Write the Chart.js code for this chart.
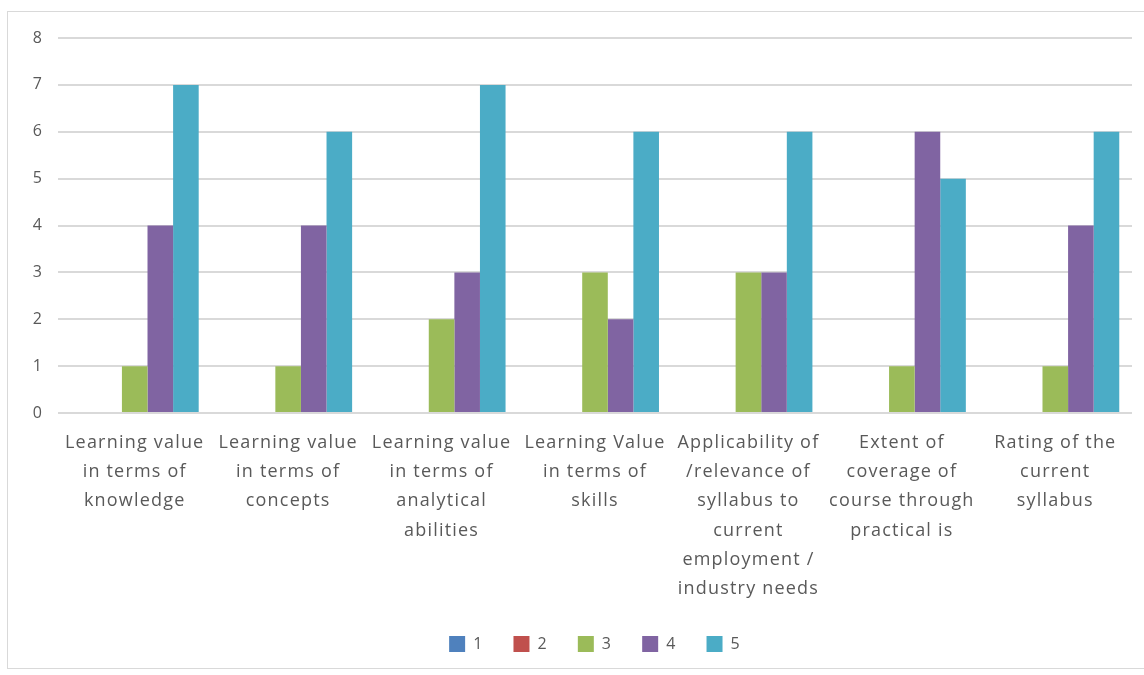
<!DOCTYPE html>
<html>
<head>
<meta charset="utf-8">
<script src="https://cdn.jsdelivr.net/npm/chart.js@4/dist/chart.umd.min.js"></script>
<style>
  html, body { margin: 0; padding: 0; background: #fff; }
  #wrap { position: relative; width: 1144px; height: 675px; }
</style>
</head>
<body>
<div id="wrap"><canvas id="chart"></canvas></div>
<script>
const categories = [
  ["Learning value", "in terms of", "knowledge"],
  ["Learning value", "in terms of", "concepts"],
  ["Learning value", "in terms of", "analytical", "abilities"],
  ["Learning Value", "in terms of", "skills"],
  ["Applicability of", "/relevance of", "syllabus to", "current", "employment /", "industry needs"],
  ["Extent of", "coverage of", "course through", "practical is"],
  ["Rating of the", "current", "syllabus"]
];
const seriesNames = ["1", "2", "3", "4", "5"];
const series1 = [0, 0, 0, 0, 0, 0, 0];
const series2 = [0, 0, 0, 0, 0, 0, 0];
const series3 = [1, 1, 2, 3, 3, 1, 1];
const series4 = [4, 4, 3, 2, 3, 6, 4];
const series5 = [7, 6, 7, 6, 6, 5, 6];
const colors = ["#4f81bd", "#c0504d", "#9bbb59", "#8064a2", "#4bacc6"];

const textColor = "#595959";
const gridColor = "#d9d9d9";

// frame around the whole chart, wide text, legend centred under the plot
const framePlugin = {
  id: "frame",
  beforeLayout(chart) { chart.ctx.letterSpacing = "1.2px"; },
  afterLayout(chart) {
    const lg = chart.legend;
    const shift = (chart.chartArea.left + chart.chartArea.right) / 2 - (lg.left + lg.right) / 2;
    lg.left += shift;
    lg.right += shift;
  },
  beforeDraw(chart) {
    const ctx = chart.ctx;
    ctx.letterSpacing = "1.2px";
    ctx.save();
    ctx.strokeStyle = gridColor;
    ctx.lineWidth = 1;
    ctx.strokeRect(7.5, 11.5, 1150, 657);
    ctx.restore();
  }
};

const allSeries = [series1, series2, series3, series4, series5];

new Chart(document.getElementById("chart"), {
  type: "bar",
  data: {
    labels: categories,
    datasets: allSeries.map((vals, i) => ({
      label: seriesNames[i],
      data: vals,
      backgroundColor: colors[i],
      borderWidth: 0
    }))
  },
  options: {
    responsive: true,
    maintainAspectRatio: false,
    animation: false,
    categoryPercentage: 0.834,
    barPercentage: 1,
    layout: { padding: { top: 38, left: 0, right: 12, bottom: 13 } },
    plugins: {
      legend: {
        position: "bottom",
        labels: {
          color: textColor,
          font: { family: "Open Sans", size: 16 },
          boxWidth: 16,
          boxHeight: 16,
          padding: 30
        }
      },
      tooltip: { enabled: false }
    },
    scales: {
      x: {
        grid: { display: false },
        border: { display: false },
        ticks: {
          color: textColor,
          font: { family: "Open Sans", size: 18, lineHeight: 1.63 },
          maxRotation: 0,
          autoSkip: false,
          padding: 7
        },
        afterFit(scale) { scale.height = 193; }
      },
      y: {
        min: 0,
        max: 8,
        ticks: {
          stepSize: 1,
          color: textColor,
          font: { family: "Open Sans", size: 16 },
          padding: 15
        },
        grid: { color: gridColor, lineWidth: 2, drawTicks: false },
        border: { display: false },
        afterFit(scale) { scale.width = 58; }
      }
    }
  },
  plugins: [framePlugin]
});
</script>
</body>
</html>
